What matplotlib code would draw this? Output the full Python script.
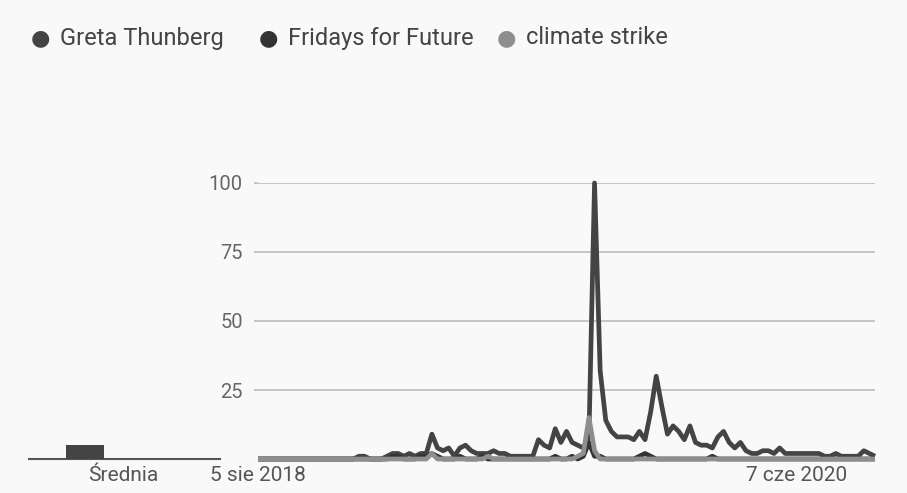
"""Google Trends style chart: Greta Thunberg vs Fridays for Future vs climate strike."""

import matplotlib.pyplot as plt
import numpy as np

plt.rcParams["font.family"] = ["Roboto", "DejaVu Sans"]

TERMS = ["Greta Thunberg", "Fridays for Future", "climate strike"]
COLORS = ["#444444", "#333333", "#8e8e8e"]

# weekly interest, starting 5 Aug 2018 (index 0)
greta = [
    0, 0, 0, 0, 0, 0, 0, 0, 0, 0,
    0, 0, 0, 0, 0, 0, 0, 0, 1, 1,
    0, 0, 0, 1, 2, 2, 1, 2, 1, 2,
    2, 9, 4, 3, 4, 1, 4, 5, 3, 2,
    2, 2, 3, 2, 2, 1, 1, 1, 1, 1,
    7, 5, 4, 11, 6, 10, 6, 5, 4, 8,
    100, 32, 14, 10, 8, 8, 8, 7, 10, 7,
    17, 30, 19, 9, 12, 10, 7, 12, 6, 5,
    5, 4, 8, 10, 6, 4, 6, 3, 2, 2,
    3, 3, 2, 4, 2, 2, 2, 2, 2, 2,
    2, 1, 1, 2, 1, 1, 1, 1, 3, 2,
    1,
]
fff = [
    0, 0, 0, 0, 0, 0, 0, 0, 0, 0,
    0, 0, 0, 0, 0, 0, 0, 0, 0, 0,
    0, 0, 0, 0, 1, 1, 0, 0, 0, 1,
    1, 2, 1, 0, 0, 0, 1, 0, 0, 0,
    1, 0, 0, 0, 0, 0, 0, 0, 0, 0,
    0, 0, 0, 1, 0, 0, 1, 0, 1, 6,
    1, 1, 0, 0, 0, 0, 0, 0, 1, 2,
    1, 0, 0, 0, 0, 0, 0, 0, 0, 0,
    0, 1, 0, 0, 0, 0, 0, 0, 0, 0,
    0, 0, 0, 0, 0, 0, 0, 0, 0, 0,
    0, 0, 0, 0, 0, 0, 0, 0, 0, 0,
    0,
]
strike = [
    0, 0, 0, 0, 0, 0, 0, 0, 0, 0,
    0, 0, 0, 0, 0, 0, 0, 0, 0, 0,
    0, 0, 0, 0, 0, 0, 0, 0, 0, 0,
    0, 2, 0, 0, 0, 0, 0, 0, 0, 0,
    0, 1, 0, 0, 0, 0, 0, 0, 0, 0,
    0, 0, 0, 0, 0, 0, 0, 1, 2, 15,
    3, 0, 0, 0, 0, 0, 0, 0, 0, 0,
    0, 0, 0, 0, 0, 0, 0, 0, 0, 0,
    0, 0, 0, 0, 0, 0, 0, 0, 0, 0,
    0, 0, 0, 0, 0, 0, 0, 0, 0, 0,
    0, 0, 0, 0, 0, 0, 0, 0, 0, 0,
    0,
]
averages = [5, 0, 0]

DATE_TICKS = [0, 96]
DATE_LABELS = ["5 sie 2018", "7 cze 2020"]
Y_TICKS = [25, 50, 75, 100]

BG = "#f9f9f9"
W, H = 907, 493

fig = plt.figure(figsize=(W / 100, H / 100), dpi=100, facecolor=BG)

# main line chart
ax = fig.add_axes([258 / W, (H - 459) / H, 617 / W, 276 / H], facecolor=BG)
weeks = np.arange(len(greta))
for series, color in zip([greta, fff, strike], COLORS):
    ax.plot(weeks, series, color=color, lw=3.4, solid_joinstyle="round",
            solid_capstyle="butt", clip_on=False, zorder=3)
ax.set_xlim(0, len(greta) - 1)
ax.set_ylim(0, 100)
ax.set_yticks(Y_TICKS)
ax.set_yticklabels([str(v) for v in Y_TICKS])
ax.yaxis.grid(True, color="#bcbcbc", lw=1.2)
ax.tick_params(axis="y", length=3, width=1.2, color="#bcbcbc", pad=8,
               labelsize=14.5, labelcolor="#666666")
ax.set_xticks(DATE_TICKS)
ax.set_xticklabels(DATE_LABELS)
ax.tick_params(axis="x", length=0, pad=5, labelsize=15, labelcolor="#555555")
for side in ["top", "right", "left", "bottom"]:
    ax.spines[side].set_visible(False)

# average bars
ax_avg = fig.add_axes([29 / W, (H - 459) / H, 191 / W, 276 / H], facecolor="none")
ax_avg.bar(np.arange(len(averages)), averages, width=1, color=COLORS, zorder=3)
ax_avg.set_xlim(-1.47, 3.55)
ax_avg.set_ylim(0, 100)
ax_avg.set_yticks([])
ax_avg.set_xticks([1])
ax_avg.set_xticklabels(["Średnia"])
ax_avg.tick_params(axis="x", length=0, pad=5, labelsize=15, labelcolor="#555555")
for side in ["top", "right", "left"]:
    ax_avg.spines[side].set_visible(False)
ax_avg.spines["bottom"].set_color("#555555")
ax_avg.spines["bottom"].set_linewidth(1.5)

# legend row
leg_x = [40, 268, 506]
for x, term, color in zip(leg_x, TERMS, COLORS):
    fig.text(x / W, 1 - 38 / H, "●", color=color, fontsize=16,
             ha="center", va="center", family=["DejaVu Sans"])
    fig.text((x + 20) / W, 1 - 38 / H, term, color="#444444", fontsize=17,
             ha="left", va="center")

fig.savefig("out.png", dpi=100, facecolor=BG)
